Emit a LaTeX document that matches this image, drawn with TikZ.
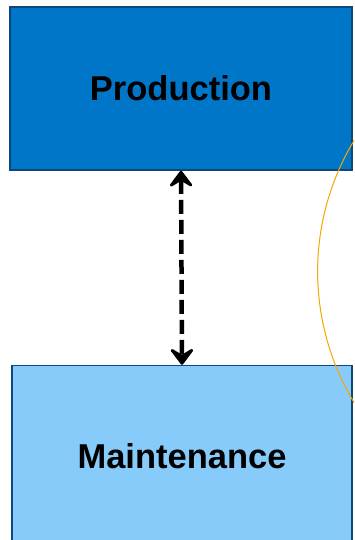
\documentclass[tikz,border=0pt]{standalone}
\usepackage{fontspec}
\setmainfont{Liberation Sans}
\usetikzlibrary{arrows.meta, positioning}
\definecolor{prodblue}{RGB}{0,118,200}
\definecolor{maintblue}{RGB}{135,203,250}
\definecolor{edgenavy}{RGB}{12,72,120}
\definecolor{arcorange}{RGB}{245,168,0}

\tikzset{
  unitbox/.style={draw=edgenavy, line width=1.5pt, inner sep=0pt,
    font=\fontsize{34.5}{40}\selectfont\bfseries},
  linkarrow/.style={{Stealth[length=20pt,width=30pt,inset=9pt,round]}-{Stealth[length=20pt,width=30pt,inset=9pt,round]},
    line width=4.5pt, dash pattern=on 14pt off 6pt},
}

\begin{document}
\begin{tikzpicture}[x=1pt,y=1pt]

        % Khung của hình
        \clip (0,0) rectangle (354,-540);

        % Hai khối
        \node[unitbox, fill=prodblue, minimum width=342pt, minimum height=163pt] (prod) at (181,-88.5) {Production};
        \node[unitbox, fill=maintblue, minimum width=340pt, minimum height=181pt, below=194pt of prod, xshift=1pt] (maint) {Maintenance};

        % Mũi tên hai chiều nét đứt
        \draw[linkarrow] (prod.south) -- (maint.north);

        % Cung màu cam bên phải
        \draw[arcorange, line width=1pt] (571,-271.5) ++(140:253.4) arc[start angle=140, end angle=220, radius=253.4];

\end{tikzpicture}
\end{document}
